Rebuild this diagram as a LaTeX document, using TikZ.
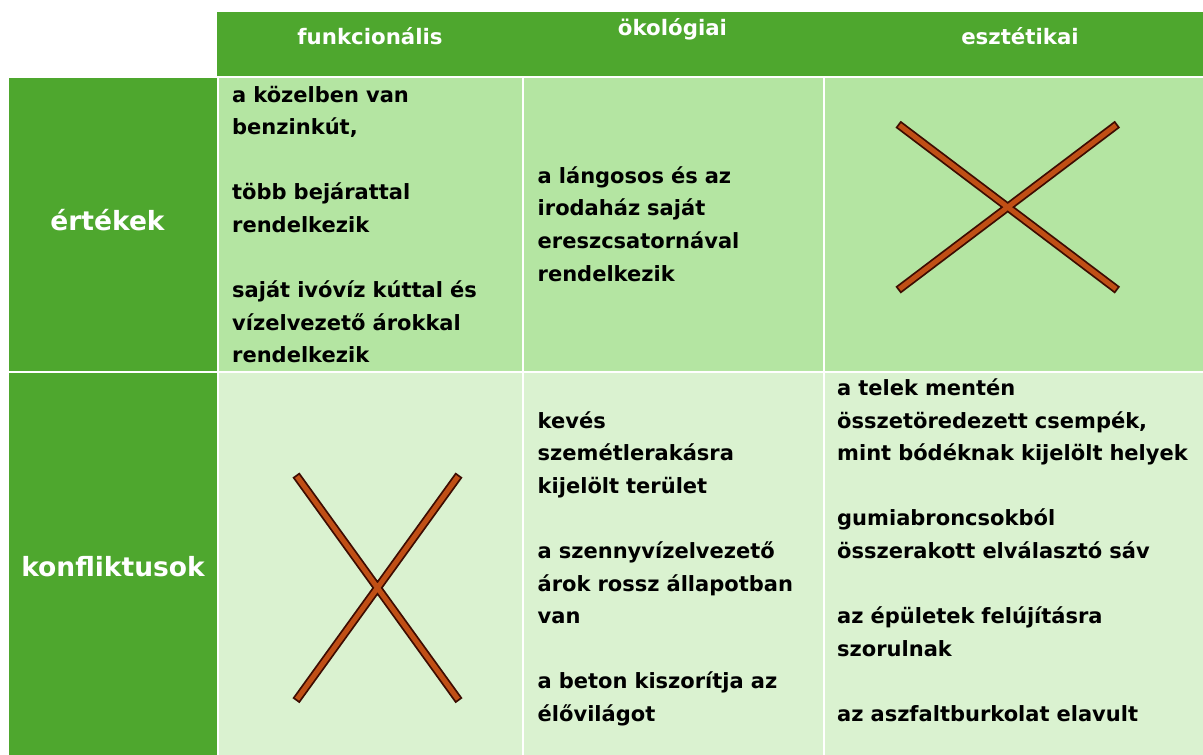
\documentclass[tikz,border=0pt]{standalone}
\usepackage{fontspec}
\setmainfont{DejaVu Sans}
\definecolor{hdrgreen}{HTML}{4EA72E}
\definecolor{rowone}{HTML}{B4E5A2}
\definecolor{rowtwo}{HTML}{DAF2D0}
\definecolor{crossfill}{HTML}{C04F15}
\definecolor{crossline}{HTML}{3D0C02}
\begin{document}
\begin{tikzpicture}[x=1pt,y=-1pt,
  hdrtext/.style={text=white,font=\fontsize{21.3}{26}\selectfont\bfseries,inner sep=0,anchor=base},
  lbltext/.style={text=white,font=\fontsize{26.5}{32}\selectfont\bfseries,inner sep=0,anchor=base},
  celltext/.style={text=black,font=\fontsize{21}{32.6}\selectfont\bfseries,inner sep=0,anchor=base west,text width=362pt,align=left},
  crossout/.style={draw=crossline,line width=8.6pt,line cap=rect},
  crossin/.style={draw=crossfill,line width=5pt,line cap=rect}]
\useasboundingbox[fill=white] (0,0) rectangle (1203,755);
% header bar and row labels
\fill[hdrgreen] (217,12) rectangle (1203,76);
\fill[hdrgreen] (9,78) rectangle (217,371);
\fill[hdrgreen] (9,373) rectangle (217,755);
% row 1 cells
\fill[rowone] (219,78) rectangle (522,371);
\fill[rowone] (524,78) rectangle (823,371);
\fill[rowone] (825,78) rectangle (1203,371);
% row 2 cells
\fill[rowtwo] (219,373) rectangle (522,755);
\fill[rowtwo] (524,373) rectangle (823,755);
\fill[rowtwo] (825,373) rectangle (1203,755);
% crosses
\coordinate (a1) at (901.5,126.8);
\coordinate (a2) at (1114,287.5);
\coordinate (a3) at (1114,126.8);
\coordinate (a4) at (901.5,287.5);
\coordinate (b1) at (298.5,478.5);
\coordinate (b2) at (456.5,697.2);
\coordinate (b3) at (456.5,478.5);
\coordinate (b4) at (298.5,697.2);
\draw[crossout] (a1) -- (a2) (a3) -- (a4) (b1) -- (b2) (b3) -- (b4);
\draw[crossin] (a1) -- (a2) (a3) -- (a4) (b1) -- (b2) (b3) -- (b4);
% headers
\node[hdrtext] (hfunk) at (370,44) {funkcionális};
\node[hdrtext] (hoko) at (672.5,35) {ökológiai};
\node[hdrtext] (hesz) at (1020,44) {esztétikai};
\node[lbltext] (lert) at (107.5,230) {értékek};
\node[lbltext] (lkon) at (113,576) {konfliktusok};
% cell texts
\node[celltext] (c11) at (232,102) {a közelben van\\benzinkút,\\[32.6pt]több bejárattal\\rendelkezik\\[32.6pt]saját ivóvíz kúttal és\\vízelvezető árokkal\\rendelkezik};
\node[celltext] (c12) at (537.5,183.3) {a lángosos és az\\irodaház saját\\ereszcsatornával\\rendelkezik};
\node[celltext] (c22) at (537.5,428) {kevés\\szemétlerakásra\\kijelölt terület\\[32.6pt]a szennyvízelvezető\\árok rossz állapotban\\van\\[32.6pt]a beton kiszorítja az\\élővilágot};
\node[celltext] (c23) at (837,395.4) {a telek mentén\\összetöredezett csempék,\\mint bódéknak kijelölt helyek\\[32.6pt]gumiabroncsokból\\összerakott elválasztó sáv\\[32.6pt]az épületek felújításra\\szorulnak\\[32.6pt]az aszfaltburkolat elavult};
\end{tikzpicture}
\end{document}
